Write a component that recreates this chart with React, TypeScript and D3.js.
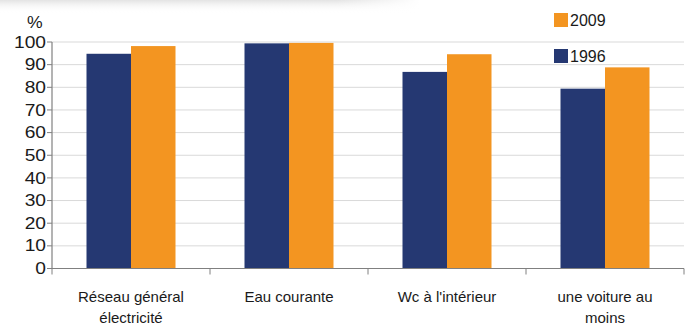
import React from "react";
import * as d3 from "d3";

const categories = [
  ["Réseau général", "électricité"],
  ["Eau courante"],
  ["Wc à l'intérieur"],
  ["une voiture au", "moins"],
];
const series1996 = [94.8, 99.4, 86.8, 79.4];
const series2009 = [98.2, 99.6, 94.6, 88.8];
const yTicks = [0, 10, 20, 30, 40, 50, 60, 70, 80, 90, 100];

const W = 690;
const H = 325;
const left = 52;
const right = 684;
const y0 = 268.5;
const y100 = 42;
const BLUE = "#253872";
const ORANGE = "#F39521";
const FONT = "'Liberation Sans', Arial, sans-serif";

export default function App() {
  const x = d3
    .scaleBand<number>()
    .domain(d3.range(categories.length))
    .range([left, right])
    .paddingInner(0)
    .paddingOuter(0);
  const y = d3.scaleLinear().domain([0, 100]).range([y0, y100]);
  const bw = x.bandwidth();
  const barW = 44.5;
  const groupOffset = (bw - 2 * barW) / 2;

  return (
    <svg
      width={W}
      height={H}
      style={{ position: "absolute", left: 0, top: 0, background: "#fff" }}
    >
      <defs>
        <linearGradient id="shadowV" x1="0" y1="0" x2="0" y2="1">
          <stop offset="0" stopColor="#e3e3e3" />
          <stop offset="1" stopColor="#ffffff" stopOpacity="0" />
        </linearGradient>
        <linearGradient id="shadowH" x1="0" y1="0" x2="1" y2="0">
          <stop offset="0" stopColor="#fff" stopOpacity="0" />
          <stop offset="0.8" stopColor="#fff" stopOpacity="0" />
          <stop offset="1" stopColor="#fff" stopOpacity="1" />
        </linearGradient>
      </defs>
      <rect x={0} y={0} width={420} height={13} fill="url(#shadowV)" />
      <rect x={0} y={0} width={420} height={13} fill="url(#shadowH)" />

      {/* grid */}
      {yTicks.map((t) => (
        <line
          key={"g" + t}
          x1={left}
          x2={right}
          y1={y(t)}
          y2={y(t)}
          stroke="#d9d9d9"
          strokeWidth={1}
        />
      ))}

      {/* bars */}
      {categories.map((_, i) => (
        <g key={"b" + i}>
          <rect
            x={(x(i) as number) + groupOffset}
            y={y(series1996[i])}
            width={barW}
            height={y0 - y(series1996[i])}
            fill={BLUE}
          />
          <rect
            x={(x(i) as number) + groupOffset + barW}
            y={y(series2009[i])}
            width={barW}
            height={y0 - y(series2009[i])}
            fill={ORANGE}
          />
        </g>
      ))}

      {/* y axis */}
      <line x1={left} x2={left} y1={y100} y2={y0} stroke="#808080" strokeWidth={1.2} />
      {yTicks.map((t) => (
        <g key={"t" + t}>
          <line x1={left - 5} x2={left} y1={y(t)} y2={y(t)} stroke="#808080" />
          <text
            transform={`translate(${left - 6},${y(t)}) scale(1.2,1)`}
            dy="0.35em"
            textAnchor="end"
            fontFamily={FONT}
            fontSize={16}
            fill="#1a1a1a"
          >
            {t}
          </text>
        </g>
      ))}
      <text
        transform="translate(27,28) scale(1.1,1)"
        fontFamily={FONT}
        fontSize={16}
        fill="#1a1a1a"
      >
        %
      </text>

      {/* x axis */}
      <line x1={left} x2={right} y1={y0} y2={y0} stroke="#808080" strokeWidth={1.2} />
      {d3.range(categories.length + 1).map((i) => {
        const xx = i < categories.length ? (x(i) as number) : right;
        return (
          <line key={"xt" + i} x1={xx} x2={xx} y1={y0} y2={y0 + 6} stroke="#808080" />
        );
      })}
      {categories.map((lines, i) => (
        <text
          key={"c" + i}
          textAnchor="middle"
          fontFamily={FONT}
          fontSize={15}
          fill="#1a1a1a"
        >
          {lines.map((l, j) => (
            <tspan key={j} x={(x(i) as number) + bw / 2} y={302 + j * 21}>
              {l}
            </tspan>
          ))}
        </text>
      ))}

      {/* legend */}
      <rect x={554} y={13} width={14} height={14} fill={ORANGE} />
      <text x={570} y={26} fontFamily={FONT} fontSize={16} fill="#1a1a1a">
        2009
      </text>
      <rect x={554} y={49} width={14} height={14} fill={BLUE} />
      <text x={570} y={62} fontFamily={FONT} fontSize={16} fill="#1a1a1a">
        1996
      </text>
    </svg>
  );
}
